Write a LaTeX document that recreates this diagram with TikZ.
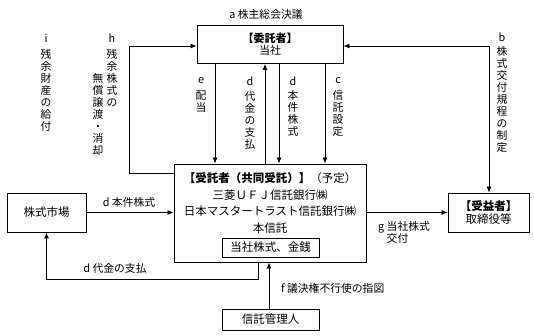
\documentclass[tikz,border=0pt]{standalone}
\usepackage{fontspec}
\setmainfont{Noto Sans CJK JP}
\usetikzlibrary{arrows.meta}
\begin{document}
\begin{tikzpicture}[x=1pt,y=-1pt,
  box/.style={draw, line width=0.9pt, inner sep=0pt, font=\fontsize{11.5}{12.5}\selectfont},
  lbl/.style={font=\fontsize{10.8}{12}\selectfont, inner sep=0pt},
  vlbl/.style={font=\fontsize{10.8}{12}\selectfont, inner sep=0pt, align=center, anchor=north},
  arr/.style={-{Latex[length=6pt,width=5pt]}, line width=0.8pt},
  darr/.style={{Latex[length=6pt,width=5pt]}-{Latex[length=6pt,width=5pt]}, line width=0.8pt}]
\useasboundingbox (0,0) rectangle (534,336);

% boxes
\node[box, minimum width=146pt, minimum height=38pt, align=center,
  font=\fontsize{11}{12}\selectfont] (top) at (270,44.5)
  {\textbf{【委託者】}\\当社};
\node[box, minimum width=192pt, minimum height=98pt] (trust) at (270,213) {};
\node[inner sep=0pt, align=center, font=\fontsize{11.5}{16.7}\selectfont] (trusttext) at (270,203)
  {\textbf{【受託者（共同受託）】}（予定）\\三菱ＵＦＪ信託銀行㈱\\日本マスタートラスト信託銀行㈱\\本信託};
\node[box, minimum width=97pt, minimum height=19pt] (inner) at (270.5,247.5) {当社株式、金銭};
\node[box, minimum width=79pt, minimum height=39pt] (market) at (46.5,212.5) {株式市場};
\node[box, minimum width=81pt, minimum height=39pt, align=center] (bene) at (488.5,212.5) {\textbf{【受益者】}\\取締役等};
\node[box, minimum width=97pt, minimum height=21pt] (mgr) at (270.5,319.5) {信託管理人};

% coordinates
\coordinate (h1) at (129,173);
\coordinate (h2) at (129,46);
\coordinate (ex) at (215,0);
\coordinate (dux) at (265,0);
\coordinate (ddx) at (279,0);
\coordinate (cx) at (325,0);
\coordinate (b1) at (489,46);
\coordinate (p1) at (258,279);
\coordinate (p2) at (46.5,279);
\coordinate (fx) at (269,0);

% connectors
\draw[arr] (trust.west |- h1) -- (h1) -- (h2) -- (top.west |- h2);
\draw[arr] (top.south -| ex) -- (trust.north -| ex);
\draw[arr] (trust.north -| dux) -- (top.south -| dux);
\draw[arr] (top.south -| ddx) -- (trust.north -| ddx);
\draw[arr] (top.south -| cx) -- (trust.north -| cx);
\draw[darr] (top.east |- b1) -- (b1) -- (bene.north -| b1);
\draw[arr] (market.east) -- (trust.west |- market.east);
\draw[arr] (trust.east |- bene.west) -- (bene.west);
\draw[arr] (trust.south -| p1) -- (p1) -- (p2) -- (market.south);
\draw[arr] (mgr.north -| fx) -- (trust.south -| fx);

% labels
\node[lbl] (la) at (266,14) {a 株主総会決議};
\node[lbl] (li) at (46,38) {i};
\node[vlbl] (vi) at (46,49) {残\\余\\財\\産\\の\\給\\付};
\node[lbl] (lh) at (112,38) {h};
\node[vlbl] (vh1) at (112,49) {残\\余\\株\\式\\の};
\node[vlbl] (vh2) at (98,73) {無\\償\\譲\\渡\\・\\消\\却};
\node[lbl] (le) at (201,81) {e};
\node[vlbl] (ve) at (201,91) {配\\当};
\node[lbl] (ld1) at (250,81) {d};
\node[vlbl] (vd1) at (250,91) {代\\金\\の\\支\\払};
\node[lbl] (ld2) at (293,81) {d};
\node[vlbl] (vd2) at (293,90) {本\\件\\株\\式};
\node[lbl] (lc) at (338,81) {c};
\node[vlbl] (vc) at (338,90) {信\\託\\設\\定};
\node[lbl] (lb) at (502,37) {b};
\node[vlbl] (vb) at (502,46) {株\\式\\交\\付\\規\\程\\の\\制\\定};
\node[lbl] (lmk) at (129,202) {d 本件株式};
\node[lbl] (lpay) at (115,268) {d 代金の支払};
\node[lbl, anchor=west] (lf) at (281,288) {f 議決権不行使の指図};
\node[lbl, anchor=north west, align=left] (lg) at (378,221) {g 当社株式\\\hphantom{g }交付};
\end{tikzpicture}
\end{document}
